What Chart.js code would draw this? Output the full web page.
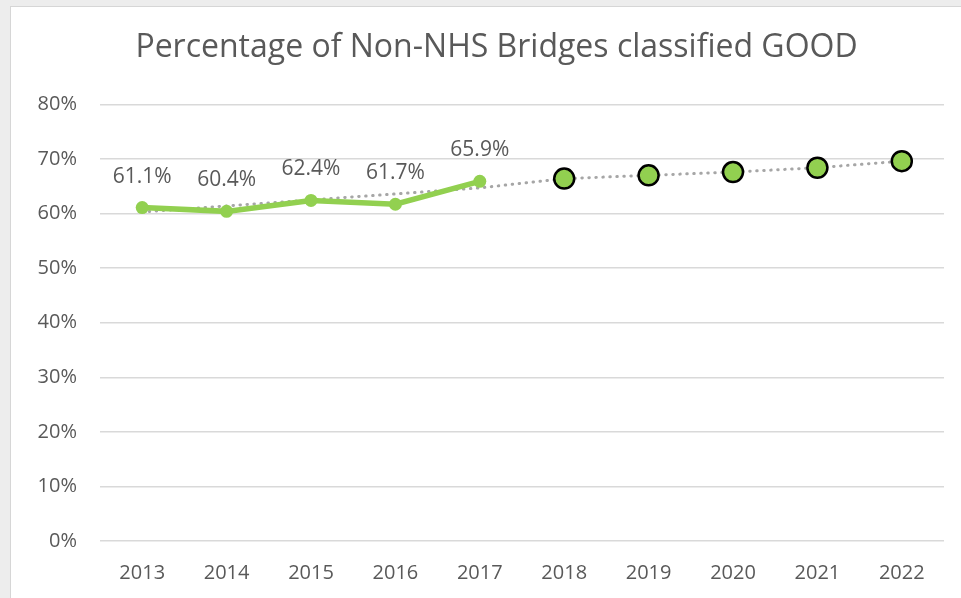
<!DOCTYPE html>
<html>
<head>
<meta charset="utf-8">
<script src="https://cdn.jsdelivr.net/npm/chart.js@4"></script>
<style>
  html, body { margin: 0; padding: 0; background: #ededed; overflow: hidden; }
  #wrap { position: absolute; left: 10px; top: 6px; width: 951px; height: 592px; background: #fff; border-left: 1px solid #d6d6d6; border-top: 1px solid #d6d6d6; }
</style>
</head>
<body>
<div id="wrap"><canvas id="bridges"></canvas></div>
<script>
const years = ['2013', '2014', '2015', '2016', '2017', '2018', '2019', '2020', '2021', '2022'];
const actual = [61.1, 60.4, 62.4, 61.7, 65.9, null, null, null, null, null];
const projected = [null, null, null, null, null, 66.4, 67.0, 67.6, 68.4, 69.6];
const trend = [60.3, 61.4, 62.5, 63.6, 64.7, 66.4, 67.0, 67.6, 68.4, 69.6];
const yTicks = [0, 10, 20, 30, 40, 50, 60, 70, 80];

const textColor = '#595959';
const green = '#92D050';
const font = "'Open Sans', 'Liberation Sans', sans-serif";

// draws the value labels above the actual points
const valueLabels = {
    id: 'valueLabels',
    afterDatasetsDraw(chart) {
        const ctx = chart.ctx;
        const meta = chart.getDatasetMeta(1);
        ctx.save();
        ctx.font = '21px ' + font;
        ctx.fillStyle = textColor;
        ctx.textAlign = 'center';
        ctx.textBaseline = 'middle';
        meta.data.forEach((pt, i) => {
            if (actual[i] == null) return;
            ctx.fillText(actual[i].toFixed(1) + '%', pt.x, pt.y - 31);
        });
        ctx.restore();
    }
};

// title sits a bit right of the canvas centre in the original
const shiftTitle = {
    id: 'shiftTitle',
    afterLayout(chart) {
        if (chart.titleBlock) chart.titleBlock.left = 38;
    }
};

new Chart(document.getElementById('bridges'), {
    type: 'line',
    data: {
        labels: years,
        datasets: [
            {
                label: 'Trend',
                data: trend,
                borderColor: '#A6A6A6',
                borderWidth: 3,
                borderDash: [0.5, 6.5],
                borderCapStyle: 'round',
                pointRadius: 0,
                fill: false,
                order: 3,
            },
            {
                label: 'Actual',
                data: actual,
                borderColor: green,
                backgroundColor: green,
                borderWidth: 5.5,
                pointRadius: 6.5,
                pointBorderWidth: 0,
                pointBackgroundColor: green,
                fill: false,
                order: 2,
            },
            {
                label: 'Projected',
                data: projected,
                showLine: false,
                pointRadius: 10,
                pointBorderWidth: 2.5,
                pointBorderColor: '#000',
                pointBackgroundColor: green,
                order: 1,
            },
        ],
    },
    options: {
        responsive: true,
        maintainAspectRatio: false,
        animation: false,
        layout: { padding: { top: 0, right: 18, bottom: 0, left: 0 } },
        plugins: {
            legend: { display: false },
            tooltip: { enabled: false },
            title: {
                display: true,
                text: 'Percentage of Non-NHS Bridges classified GOOD',
                color: textColor,
                font: { family: font, size: 32, weight: 'normal' },
                padding: { top: 22, bottom: 37 },
            },
        },
        scales: {
            x: {
                offset: true,
                grid: { display: false, drawTicks: false },
                border: { display: false },
                ticks: { color: textColor, font: { family: font, size: 20 }, padding: 20 },
                afterFit(scale) {
                    scale.height = 58;
                },
            },
            y: {
                min: 0,
                max: 80,
                afterBuildTicks(scale) {
                    scale.ticks = yTicks.map(v => ({ value: v }));
                },
                afterFit(scale) {
                    scale.width = 89;
                },
                grid: { color: '#D9D9D9', lineWidth: 1.5, drawTicks: false },
                border: { display: false },
                ticks: {
                    color: textColor,
                    font: { family: font, size: 20 },
                    padding: 23,
                    callback: v => v + '%',
                },
            },
        },
    },
    plugins: [valueLabels, shiftTitle],
});
</script>
</body>
</html>
